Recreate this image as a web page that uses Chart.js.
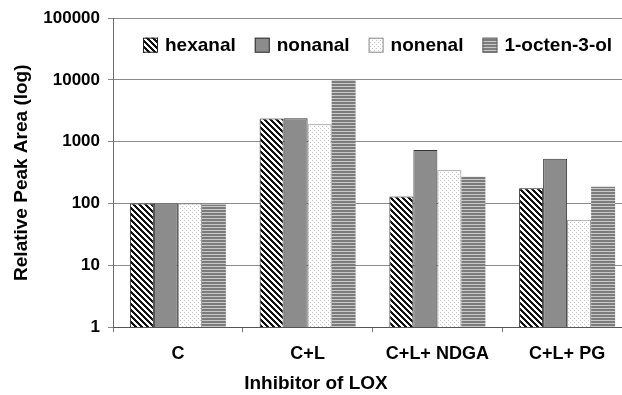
<!DOCTYPE html>
<html>
<head>
<meta charset="utf-8">
<script src="https://cdn.jsdelivr.net/npm/chart.js@4"></script>
<style>
  html, body { margin: 0; padding: 0; background: #fff; overflow: hidden; }
  #wrap { width: 694px; height: 395px; }
</style>
</head>
<body>
<div id="wrap"><canvas id="loxChart" width="694" height="395"></canvas></div>
<script>
// values (log axis)
const categories = ['C', 'C+L', 'C+L+ NDGA', 'C+L+ PG'];
const hexanal = [100, 2380, 130, 177];
const nonanal = [100, 2400, 740, 530];
const nonenal = [100, 1930, 345, 55];
const octenol = [97, 10000, 272, 188];
const yTicks = [1, 10, 100, 1000, 10000, 100000];

// fill patterns like the printed figure
function makePattern(w, h, paint) {
    const c = document.createElement('canvas');
    c.width = w;
    c.height = h;
    const g = c.getContext('2d');
    g.fillStyle = '#fff';
    g.fillRect(0, 0, w, h);
    paint(g);
    return document.getElementById('loxChart').getContext('2d').createPattern(c, 'repeat');
}

const diagPattern = makePattern(6, 6, function (g) {
    g.fillStyle = '#111';
    for (let y = 0; y < 6; y++) {
        for (let x = 0; x < 6; x++) {
            if (((x - y) % 6 + 6) % 6 < 3) g.fillRect(x, y, 1, 1);
        }
    }
});
const dotPattern = makePattern(4, 4, function (g) {
    g.fillStyle = '#c4c4c4';
    g.fillRect(0, 0, 1, 1);
    g.fillRect(2, 2, 1, 1);
});
const hstripePattern = makePattern(1, 3, function (g) {
    g.fillStyle = '#7c7c7c';
    g.fillRect(0, 0, 1, 2);
    g.fillStyle = '#c8c8c8';
    g.fillRect(0, 2, 1, 1);
});

const font = 'Liberation Sans, Arial, Helvetica, sans-serif';

// legend row drawn inside the plot area, across the top
const insideLegend = {
    id: 'insideLegend',
    afterDraw(chart, args, opts) {
        const ctx = chart.ctx;
        const area = chart.chartArea;
        const box = opts.boxSize;
        const cy = area.top + opts.offsetY;
        let x = area.left + opts.offsetX;
        ctx.save();
        ctx.font = 'bold ' + opts.fontSize + 'px ' + font;
        ctx.textBaseline = 'middle';
        ctx.textAlign = 'left';
        chart.data.datasets.forEach(function (ds) {
            ctx.fillStyle = ds.backgroundColor;
            ctx.fillRect(x, cy - box / 2, box, box);
            ctx.lineWidth = 1;
            ctx.strokeStyle = ds.legendBorder || ds.borderColor;
            ctx.strokeRect(x + 0.5, cy - box / 2 + 0.5, box - 1, box - 1);
            ctx.fillStyle = '#000';
            ctx.fillText(ds.label, x + box + opts.textGap, cy + 1);
            x += box + opts.textGap + ctx.measureText(ds.label).width + opts.itemGap;
        });
        ctx.restore();
    }
};

document.addEventListener('DOMContentLoaded', function () {
    const data = {
        labels: categories,
        datasets: [{
            label: 'hexanal',
            data: hexanal,
            backgroundColor: diagPattern,
            borderColor: '#222',
            borderWidth: 1
        }, {
            label: 'nonanal',
            data: nonanal,
            backgroundColor: '#8c8c8c',
            borderColor: '#333',
            borderWidth: 1
        }, {
            label: 'nonenal',
            data: nonenal,
            backgroundColor: dotPattern,
            borderColor: '#888',
            borderWidth: 1
        }, {
            label: '1-octen-3-ol',
            data: octenol,
            backgroundColor: hstripePattern,
            borderColor: '#999',
            legendBorder: '#666',
            borderWidth: 0
        }]
    };

    const config = {
        type: 'bar',
        data: data,
        plugins: [insideLegend],
        options: {
            responsive: false,
            animation: false,
            categoryPercentage: 0.74,
            barPercentage: 1,
            layout: {
                padding: { top: 18, right: 62, bottom: 0, left: 0 }
            },
            plugins: {
                legend: { display: false },
                insideLegend: {
                    boxSize: 15,
                    fontSize: 19,
                    textGap: 7,
                    itemGap: 19,
                    offsetX: 30,
                    offsetY: 27
                },
                title: {
                    display: true,
                    position: 'bottom',
                    text: 'Inhibitor of LOX',
                    color: '#000',
                    padding: { top: 0, bottom: 0 },
                    font: { family: font, size: 19, weight: 'bold' }
                },
                tooltip: { enabled: false }
            },
            scales: {
                y: {
                    type: 'logarithmic',
                    min: 1,
                    max: 100000,
                    afterBuildTicks: function (axis) {
                        axis.ticks = yTicks.map(v => ({ value: v }));
                    },
                    afterFit: function (axis) {
                        axis.width = 113;
                    },
                    border: { display: true, color: '#6a6a6a', width: 1 },
                    grid: {
                        color: '#8a8a8a',
                        lineWidth: 1,
                        drawTicks: true,
                        tickLength: 5
                    },
                    ticks: {
                        padding: 8,
                        color: '#000',
                        font: { family: font, size: 17, weight: 'bold' },
                        callback: function (v) { return String(v); }
                    },
                    title: {
                        display: true,
                        text: 'Relative Peak Area (log)',
                        color: '#000',
                        padding: { top: 10, bottom: 0 },
                        font: { family: font, size: 19, weight: 'bold' }
                    }
                },
                x: {
                    afterFit: function (axis) {
                        axis.height = 45;
                    },
                    border: { display: true, color: '#555', width: 1 },
                    grid: {
                        offset: true,
                        drawOnChartArea: false,
                        drawTicks: true,
                        tickLength: 5,
                        color: '#777'
                    },
                    ticks: {
                        padding: 11,
                        color: '#000',
                        maxRotation: 0,
                        font: { family: font, size: 18, weight: 'bold' }
                    }
                }
            }
        }
    };

    new Chart(document.getElementById('loxChart'), config);
});
</script>
</body>
</html>
